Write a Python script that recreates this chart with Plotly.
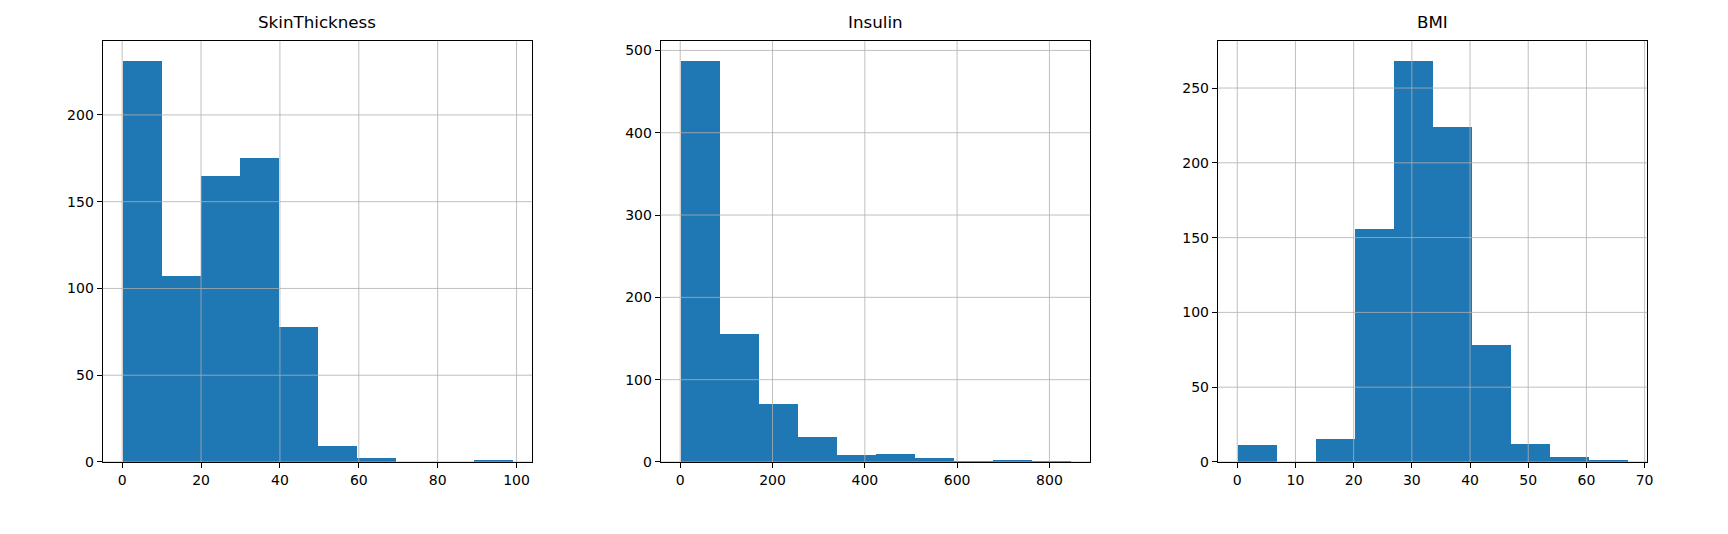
import numpy as np
import plotly.graph_objects as go

# histogram counts (10 bins each)
columns = ["SkinThickness", "Insulin", "BMI"]
skin_counts = [231, 107, 165, 175, 78, 9, 2, 0, 0, 1]
insulin_counts = [487, 155, 70, 30, 8, 9, 5, 1, 2, 1]
bmi_counts = [11, 0, 15, 156, 268, 224, 78, 12, 3, 1]
col_min = [0, 0, 0]
col_max = [99, 846, 67.1]

x_ticks = [list(range(0, 101, 20)), list(range(0, 801, 200)), list(range(0, 71, 10))]
y_ticks = [list(range(0, 201, 50)), list(range(0, 501, 100)), list(range(0, 251, 50))]

counts = [skin_counts, insulin_counts, bmi_counts]

W, H = 1728, 534
x_doms = [(103 / W, 534 / W), (663 / W, 1094 / W), (1222 / W, 1653 / W)]
y_dom = (1 - 469 / H, 1 - 41.7 / H)

fig = go.Figure()
shapes = []
annotations = []
font = dict(family="DejaVu Sans", size=14, color="black")

for i, (name, c) in enumerate(zip(columns, counts)):
    edges = np.linspace(col_min[i], col_max[i], len(c) + 1)
    centers = (edges[:-1] + edges[1:]) / 2
    width = edges[1] - edges[0]
    n = "" if i == 0 else str(i + 1)
    fig.add_trace(go.Bar(x=centers, y=c, width=width, marker=dict(color="#1f77b4", line_width=0),
                         xaxis="x" + n, yaxis="y" + n, showlegend=False, hoverinfo="x+y"))
    span = col_max[i] - col_min[i]
    xr = [col_min[i] - 0.05 * span, col_max[i] + 0.05 * span]
    yr = [0, max(c) * 1.05]
    axis_common = dict(showline=True, linecolor="black", linewidth=1, mirror=True,
                       ticks="outside", ticklen=5, tickwidth=1, tickcolor="black",
                       showgrid=False, zeroline=False, tickfont=font)
    fig.update_layout(**{
        "xaxis" + n: dict(domain=x_doms[i], range=xr, tickvals=x_ticks[i], anchor="y" + n, **axis_common),
        "yaxis" + n: dict(domain=y_dom, range=yr, tickvals=y_ticks[i], anchor="x" + n, **axis_common),
    })
    # grid lines drawn above the bars, like matplotlib
    for t in x_ticks[i]:
        shapes.append(dict(type="line", xref="x" + n, yref="y" + n + " domain", x0=t, x1=t, y0=0, y1=1,
                           line=dict(color="#b0b0b0", width=0.8), layer="above"))
    for t in y_ticks[i]:
        shapes.append(dict(type="line", xref="x" + n + " domain", yref="y" + n, x0=0, x1=1, y0=t, y1=t,
                           line=dict(color="#b0b0b0", width=0.8), layer="above"))
    annotations.append(dict(text=name, xref="paper", yref="paper", x=sum(x_doms[i]) / 2, y=y_dom[1],
                            yshift=7, xanchor="center", yanchor="bottom", showarrow=False,
                            font=dict(family="DejaVu Sans", size=16.7, color="black")))

fig.update_layout(width=W, height=H, margin=dict(l=0, r=0, t=0, b=0),
                  paper_bgcolor="white", plot_bgcolor="white", bargap=0,
                  shapes=shapes, annotations=annotations)

# drop the browser's default body margin so the figure fills the window exactly
fig.write_html("out.html", config={"displayModeBar": False},
               post_script="document.body.style.margin='0';document.body.style.overflow='hidden';")
